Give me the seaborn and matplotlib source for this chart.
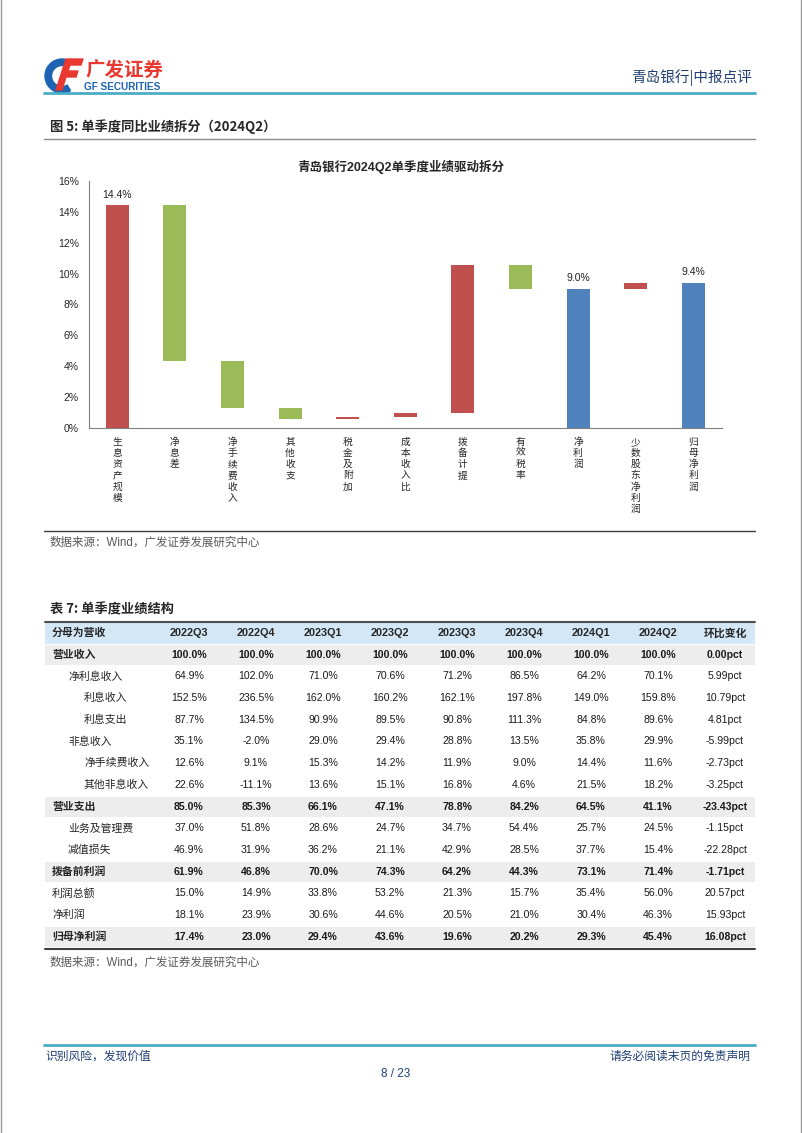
import matplotlib
matplotlib.use("Agg")
import matplotlib.pyplot as plt
import matplotlib.patches as mpatches
import numpy as np
import pandas as pd
import seaborn as sns

# ---- figure 5: waterfall of 2024Q2 YoY profit drivers ----
drivers = ["生息资产规模", "净息差", "净手续费收入", "其他收支", "税金及附加", "成本收入比",
           "拨备计提", "有效税率", "净利润", "少数股东净利润", "归母净利润"]
contrib = [14.4, -10.05, -3.05, -0.7, 0.1, 0.3, 9.55, -1.55, 9.0, 0.4, 9.4]
is_total = [False, False, False, False, False, False, False, False, True, False, True]
labeled = ["生息资产规模", "净利润", "归母净利润"]

# ---- table 7: single-quarter structure (share of revenue) ----
quarters = ["2022Q3", "2022Q4", "2023Q1", "2023Q2", "2023Q3", "2023Q4", "2024Q1", "2024Q2"]
row_names = ["营业收入", "净利息收入", "利息收入", "利息支出", "非息收入", "净手续费收入",
             "其他非息收入", "营业支出", "业务及管理费", "减值损失", "拨备前利润",
             "利润总额", "净利润", "归母净利润"]
row_indent = [0, 1, 2, 2, 1, 2, 2, 0, 1, 1, 0, 0, 0, 0]
row_bold = [True, False, False, False, False, False, False, True, False, False, True,
            False, False, True]
row_values = [
    [100.0, 100.0, 100.0, 100.0, 100.0, 100.0, 100.0, 100.0],
    [64.9, 102.0, 71.0, 70.6, 71.2, 86.5, 64.2, 70.1],
    [152.5, 236.5, 162.0, 160.2, 162.1, 197.8, 149.0, 159.8],
    [87.7, 134.5, 90.9, 89.5, 90.8, 111.3, 84.8, 89.6],
    [35.1, -2.0, 29.0, 29.4, 28.8, 13.5, 35.8, 29.9],
    [12.6, 9.1, 15.3, 14.2, 11.9, 9.0, 14.4, 11.6],
    [22.6, -11.1, 13.6, 15.1, 16.8, 4.6, 21.5, 18.2],
    [85.0, 85.3, 66.1, 47.1, 78.8, 84.2, 64.5, 41.1],
    [37.0, 51.8, 28.6, 24.7, 34.7, 54.4, 25.7, 24.5],
    [46.9, 31.9, 36.2, 21.1, 42.9, 28.5, 37.7, 15.4],
    [61.9, 46.8, 70.0, 74.3, 64.2, 44.3, 73.1, 71.4],
    [15.0, 14.9, 33.8, 53.2, 21.3, 15.7, 35.4, 56.0],
    [18.1, 23.9, 30.6, 44.6, 20.5, 21.0, 30.4, 46.3],
    [17.4, 23.0, 29.4, 43.6, 19.6, 20.2, 29.3, 45.4],
]
qoq_change = [0.00, 5.99, 10.79, 4.81, -5.99, -2.73, -3.25, -23.43, -1.15, -22.28,
              -1.71, 20.57, 15.93, 16.08]

RED, GREEN, BLUE = "#C0504D", "#9BBB59", "#4F81BD"
NAVY = "#1F3F73"
LINE_BLUE = "#4BACC6"
W, H = 802, 1133

sns.set_theme(style="white")
plt.rcParams["font.family"] = ["Liberation Sans", "Noto Sans CJK SC", "DejaVu Sans"]
CJK = ["Noto Sans CJK SC", "DejaVu Sans"]

# waterfall bottoms / tops
bottoms, tops, kinds = [], [], []
run = 0.0
for c, tot in zip(contrib, is_total):
    if tot:
        b, t = 0.0, c
        run = c
        kinds.append("total")
    else:
        b, t = sorted([run, run + c])
        run += c
        kinds.append("up" if c > 0 else "down")
    bottoms.append(b)
    tops.append(t)
df = pd.DataFrame({"item": drivers, "bottom": bottoms, "top": tops, "kind": kinds})

fig = plt.figure(figsize=(W / 100, H / 100), dpi=100)

# page layer in pixel coordinates
page = fig.add_axes([0, 0, 1, 1], zorder=0)
page.set_xlim(0, W)
page.set_ylim(H, 0)
page.axis("off")
page.patch.set_alpha(0)

# page frame
page.plot([0.5, 0.5], [0, H], color="#9a9a9a", lw=1)
page.plot([W - 1, W - 1], [0, H], color="#9a9a9a", lw=1)

# logo
page.add_patch(mpatches.Wedge((62, 76), 17, 60, 295, width=6.5, color="#1E64B4"))
page.add_patch(mpatches.Polygon([[66, 59], [83, 59], [81, 65], [70, 65], [68, 71],
                                 [78, 71], [76, 77], [66, 77], [62, 90], [56, 90]],
                                closed=True, color="#E8382F"))
page.text(85, 71, "广发证券", fontsize=14, fontweight="bold", color="#E8382F",
          family=CJK, va="center", ha="left")
page.text(84, 87.5, "GF SECURITIES", fontsize=7.2, fontweight="bold", color="#1E64B4",
          va="center", ha="left")
page.text(752, 78, "青岛银行|中报点评", fontsize=10.5, color=NAVY, family=CJK,
          va="center", ha="right")
page.plot([44, 755], [93, 93], color=LINE_BLUE, lw=2)

# figure caption
page.text(50, 127, "图 5: 单季度同比业绩拆分（2024Q2）", fontsize=9.5, fontweight="bold",
          family=CJK, va="center", ha="left")
page.plot([44, 755], [139, 139], color="#8c8c8c", lw=1)
page.text(401, 167, "青岛银行2024Q2单季度业绩驱动拆分", fontsize=9, fontweight="bold",
          va="center", ha="center")
page.plot([44, 755], [531, 531], color="#404040", lw=1)
page.text(50, 543, "数据来源：Wind，广发证券发展研究中心", fontsize=8.3, color="#595959",
          va="center", ha="left")

# waterfall chart
x0, x1, y_top, y_zero = 88.5, 722, 180.7, 428.3
ax = fig.add_axes([x0 / W, 1 - y_zero / H, (x1 - x0) / W, (y_zero - y_top) / H], zorder=1)
ax.patch.set_alpha(0)
pal = {"up": RED, "down": GREEN, "total": BLUE}
sns.barplot(data=df, x="item", y="top", hue="kind", palette=pal, dodge=False, width=0.4,
            saturation=1, legend=False, linewidth=0, ax=ax)
sns.barplot(data=df, x="item", y="bottom", color="white", width=0.41, saturation=1,
            linewidth=0, ax=ax)
for i, name in enumerate(drivers):
    if name in labeled:
        ax.annotate(f"{tops[i]:.1f}%", (i, tops[i]), xytext=(0, 4), textcoords="offset points",
                    ha="center", va="bottom", fontsize=7.5, color="#222222")
ax.set_xlim(-0.5, len(drivers) - 0.5)
ax.set_ylim(0, 16)
ax.set_yticks(np.arange(0, 17, 2))
ax.set_yticklabels([f"{v}%" for v in range(0, 17, 2)], fontsize=7.5, color="#262626")
ax.set_xticks(np.arange(-0.5, len(drivers), 1))
ax.set_xticklabels([""] * (len(drivers) + 1))
ax.set_xticks(np.arange(len(drivers)), minor=True)
ax.set_xticklabels(["\n".join(d) for d in drivers], minor=True, fontsize=7,
                   family=CJK, va="top", linespacing=1.16, color="#262626")
ax.tick_params(axis="x", which="major", length=4, width=0.8, color="#808080", direction="out")
ax.tick_params(axis="x", which="minor", length=0, pad=6)
ax.tick_params(axis="y", length=4, width=0.8, color="#808080", direction="out", pad=3)
ax.set_xlabel("")
ax.set_ylabel("")
for s in ["top", "right"]:
    ax.spines[s].set_visible(False)
for s in ["left", "bottom"]:
    ax.spines[s].set_color("#808080")
    ax.spines[s].set_linewidth(0.8)

# table 7
page.text(50, 609, "表 7: 单季度业绩结构", fontsize=9.5, fontweight="bold", family=CJK,
          va="center", ha="left")
col_x = [189 + 67 * i for i in range(len(quarters) + 1)]
row_h = 21.7
y_head = 633
page.add_patch(mpatches.Rectangle((45, y_head - 10.5), 710, 21, color="#D3E7F6", lw=0))
page.plot([45, 755], [y_head - 11, y_head - 11], color="#505050", lw=1.5)
page.text(52, y_head, "分母为营收", fontsize=7.8, fontweight="bold", family=CJK,
          va="center", ha="left")
for cx, q in zip(col_x, quarters + ["环比变化"]):
    page.text(cx, y_head, q, fontsize=7.8, fontweight="bold", va="center", ha="center")
for r, name in enumerate(row_names):
    yc = y_head + row_h * (r + 1)
    bold = "bold" if row_bold[r] else "normal"
    if row_bold[r]:
        page.add_patch(mpatches.Rectangle((45, yc - 10), 710, 20, color="#EDEDED", lw=0))
    page.text(52 + 16 * row_indent[r], yc, name, fontsize=7.8, fontweight=bold,
              family=CJK, va="center", ha="left", color="#262626")
    cells = [f"{v:.1f}%" for v in row_values[r]] + [f"{qoq_change[r]:.2f}pct"]
    for cx, txt in zip(col_x, cells):
        page.text(cx, yc, txt, fontsize=7.6, fontweight=bold, va="center", ha="center",
                  color="#1a1a1a")
y_end = y_head + row_h * (len(row_names) + 0.5)
page.plot([45, 755], [y_end + 1, y_end + 1], color="#404040", lw=1.5)
page.text(50, 963, "数据来源：Wind，广发证券发展研究中心", fontsize=8.3, color="#595959",
          va="center", ha="left")

# footer
page.plot([44, 755], [1045, 1045], color=LINE_BLUE, lw=2)
page.text(45, 1056, "识别风险，发现价值", fontsize=8.5, color=NAVY, family=CJK,
          va="center", ha="left")
page.text(750, 1056, "请务必阅读末页的免责声明", fontsize=8.5, color=NAVY, family=CJK,
          va="center", ha="right")
page.text(396, 1074, "8 / 23", fontsize=8.5, color=NAVY, va="center", ha="center")

fig.savefig("out.png", dpi=100)
plt.close(fig)
